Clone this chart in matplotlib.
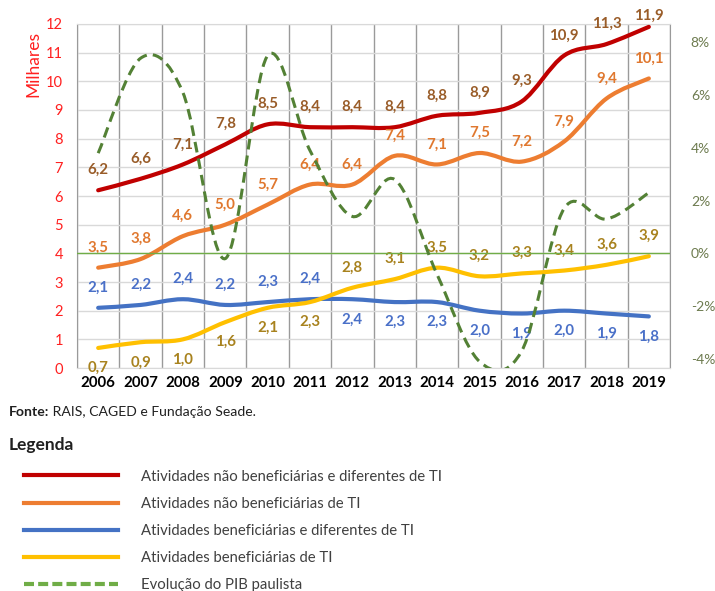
import matplotlib.pyplot as plt
from matplotlib.path import Path
from matplotlib.patches import PathPatch
from matplotlib.lines import Line2D

plt.rcParams['font.family'] = ['Lato', 'DejaVu Sans']

years = ['2006', '2007', '2008', '2009', '2010', '2011', '2012',
         '2013', '2014', '2015', '2016', '2017', '2018', '2019']
nao_benef_dif = [6.2, 6.6, 7.1, 7.8, 8.5, 8.4, 8.4, 8.4, 8.8, 8.9, 9.3, 10.9, 11.3, 11.9]
nao_benef = [3.5, 3.8, 4.6, 5.0, 5.7, 6.4, 6.4, 7.4, 7.1, 7.5, 7.2, 7.9, 9.4, 10.1]
benef_dif = [2.1, 2.2, 2.4, 2.2, 2.3, 2.4, 2.4, 2.3, 2.3, 2.0, 1.9, 2.0, 1.9, 1.8]
benef = [0.7, 0.9, 1.0, 1.6, 2.1, 2.3, 2.8, 3.1, 3.5, 3.2, 3.3, 3.4, 3.6, 3.9]
pib = [3.8, 7.4, 6.1, -0.2, 7.5, 3.9, 1.4, 2.8, -0.8, -4.1, -3.7, 1.7, 1.3, 2.3]

labels = ['Atividades não beneficiárias e diferentes de TI',
          'Atividades não beneficiárias de TI',
          'Atividades beneficiárias e diferentes de TI',
          'Atividades beneficiárias de TI',
          'Evolução do PIB paulista']


def smooth_path(xs, ys):
    # excel-like smoothed line as cubic bezier segments
    n = len(xs)
    verts = [(xs[0], ys[0])]
    codes = [Path.MOVETO]
    for i in range(n - 1):
        p0 = max(i - 1, 0)
        p3 = min(i + 2, n - 1)
        c1 = (xs[i] + (xs[i + 1] - xs[p0]) / 6, ys[i] + (ys[i + 1] - ys[p0]) / 6)
        c2 = (xs[i + 1] - (xs[p3] - xs[i]) / 6, ys[i + 1] - (ys[p3] - ys[i]) / 6)
        verts += [c1, c2, (xs[i + 1], ys[i + 1])]
        codes += [Path.CURVE4] * 3
    return Path(verts, codes)


fig = plt.figure(figsize=(7.15, 5.91), dpi=100)
ax = fig.add_axes([0.1077, 0.3773, 0.8294, 0.5821])
ax2 = ax.twinx()

x = list(range(len(years)))

series = [
    (nao_benef_dif, '#C00000', '#995C28', [1] * 14),
    (nao_benef, '#ED7D31', '#E0782F', [1] * 14),
    (benef_dif, '#4472C4', '#4A70C8', [1] * 6 + [-1] * 8),
    (benef, '#FFC000', '#A8821E', [-1] * 6 + [1] * 8),
]

pt_per_unit = 20.6  # one y unit in points
for vals, col, lcol, side in series:
    ax.add_patch(PathPatch(smooth_path(x, vals), fill=False, edgecolor=col,
                           lw=3, capstyle='round', joinstyle='round', zorder=3))
    for xi, v, s in zip(x, vals, side):
        off = 14.5 * s
        # keep labels inside the chart area near the top
        off = min(off, (12.3 - v) * pt_per_unit)
        ax.annotate(f'{v:.1f}'.replace('.', ','), (xi, v), xytext=(0, off),
                    textcoords='offset points', ha='center', va='center',
                    fontsize=10.8, fontweight='bold', color=lcol, zorder=4,
                    annotation_clip=False)

ax.set_xlim(-0.5, len(years) - 0.5)
ax.set_ylim(0, 12)
ax.set_yticks(range(0, 13))
ax.set_xticks(x)
ax.set_xticklabels(years, fontweight='bold', fontsize=10.8)
ax.set_xticks([i - 0.5 for i in range(len(years) + 1)], minor=True)
ax.grid(axis='y', color='#D9D9D9', lw=1)
ax.grid(axis='x', which='minor', color='#9A9A9A', lw=1)
ax.set_axisbelow(True)
ax.tick_params(axis='x', which='both', length=0, pad=6)
ax.tick_params(axis='y', length=0, pad=10, labelcolor='#FF2020', labelsize=10.5)
for s in ['left', 'right']:
    ax.spines[s].set_color('#9A9A9A')
for s in ['top', 'bottom']:
    ax.spines[s].set_color('#D9D9D9')

ax2.add_patch(PathPatch(smooth_path(x, pib), fill=False, edgecolor='#538135',
                        lw=2.2, linestyle=(0, (3.5, 2)), zorder=5))
ax2.axhline(0, color='#70AD47', lw=1, zorder=2)
ax2.set_ylim(-4.35, 8.7)
ax2.set_yticks(range(-4, 9, 2))
ax2.set_yticklabels([f'{v}%' for v in range(-4, 9, 2)])
ax2.tick_params(axis='y', length=0, pad=15, labelcolor='#6D7B4F', labelsize=10)
for s in ax2.spines.values():
    s.set_visible(False)

fig.text(0.046, 0.892, 'Milhares', rotation=90, color='#FF2020', fontsize=12.5,
         ha='center', va='center')

t1 = fig.text(0.0126, 0.303, 'Fonte:', fontsize=10.1, fontweight='bold',
              color='#202020', va='center')
ax.annotate(' RAIS, CAGED e Fundação Seade.', xy=(1, 0.5), xycoords=t1,
            fontsize=10.1, color='#202020', va='center', ha='left',
            annotation_clip=False)
fig.text(0.0126, 0.247, 'Legenda', fontsize=12.5, fontweight='bold',
         color='#202020', va='center')

handles = [Line2D([], [], color='#C00000', lw=3),
           Line2D([], [], color='#ED7D31', lw=3),
           Line2D([], [], color='#4472C4', lw=3),
           Line2D([], [], color='#FFC000', lw=3),
           Line2D([], [], color='#70AD47', lw=3, ls=(0, (2.4, 1.0)))]
fig.legend(handles, labels, loc='upper left', bbox_to_anchor=(0.0336, 0.2055),
           frameon=False, fontsize=10.7, handlelength=6.33, handletextpad=1.55,
           labelspacing=0.89, borderpad=0, borderaxespad=0, labelcolor='#404040')

fig.savefig('out.png', dpi=100)
